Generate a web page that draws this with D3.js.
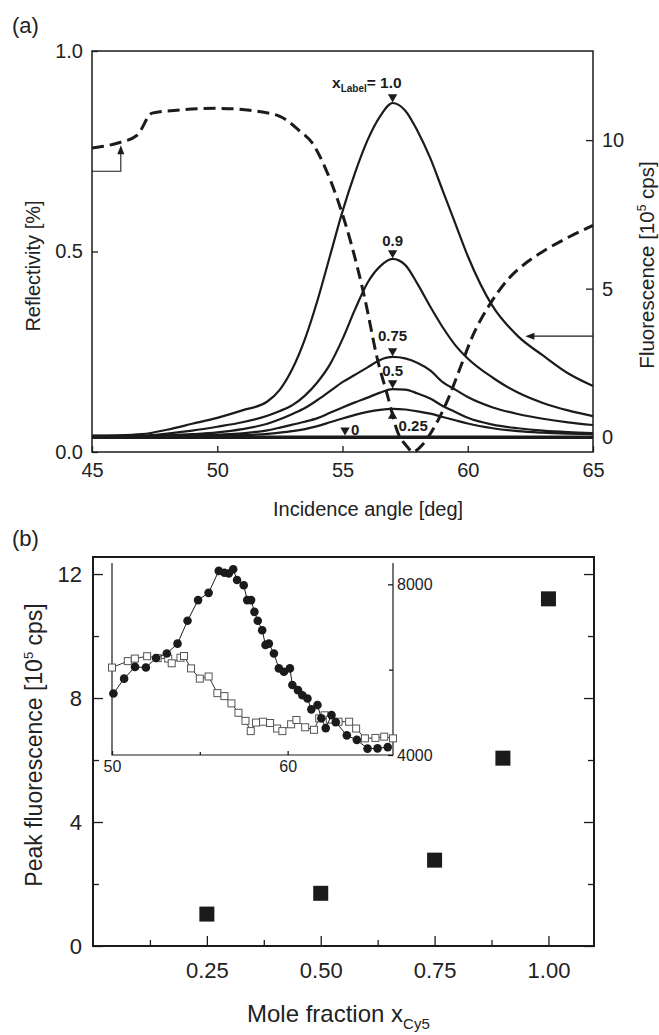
<!DOCTYPE html>
<html>
<head>
<meta charset="utf-8">
<script src="https://cdn.jsdelivr.net/npm/d3@7"></script>
<style>
  body { margin: 0; background: #fff; }
  svg { display: block; font-family: "Liberation Sans", Arial, sans-serif; }
</style>
</head>
<body>
<div id="container"></div>
<script>
/* CONSTANTS AND GLOBALS */
const width = 659,
  height = 1035,
  ink = "#1b1b1b";

/* DATA - panel (a) */
const angleGrid = [45,46,47,48,49,50,51,52,52.5,53,53.5,54,54.5,55,55.5,56,56.5,57,57.5,58,58.5,59,59.5,60,61,62,63,64,65];
const fluo100 = [0.05,0.06,0.1,0.25,0.45,0.65,0.9,1.2,1.6,2.3,3.3,4.6,6.1,7.6,8.9,10.0,10.8,11.25,11.0,10.3,9.4,8.3,7.2,6.1,4.4,3.4,2.75,2.15,1.72];
const fluo90 = [0.04,0.04,0.05,0.12,0.22,0.35,0.5,0.72,0.88,1.08,1.4,1.85,2.45,3.3,4.3,5.2,5.75,6.0,5.8,5.15,4.4,3.7,3.1,2.65,2.0,1.5,1.15,0.9,0.71];
const fluo75 = [0.03,0.03,0.03,0.06,0.1,0.16,0.27,0.45,0.6,0.78,0.98,1.25,1.55,1.85,2.1,2.35,2.6,2.7,2.65,2.5,2.25,1.85,1.6,1.35,1.0,0.78,0.62,0.5,0.41];
const fluo50 = [0.02,0.02,0.02,0.04,0.06,0.09,0.13,0.23,0.32,0.42,0.52,0.64,0.82,1.0,1.17,1.33,1.5,1.62,1.6,1.47,1.3,1.05,0.85,0.65,0.42,0.3,0.22,0.17,0.14];
const fluo25 = [0.01,0.01,0.01,0.02,0.03,0.05,0.07,0.11,0.15,0.2,0.27,0.37,0.5,0.63,0.75,0.85,0.92,0.95,0.93,0.87,0.79,0.68,0.57,0.46,0.3,0.2,0.15,0.12,0.1];
const fluo0 = [0,0,0,0,0,0,0,0,0,0,0,0,0,0,0,0,0,0,0,0,0,0,0,0,0,0,0,0,0];
const curveLabels = ["1.0","0.9","0.75","0.5","0.25","0"];

const reflAngles = [45.0,46.0,46.8,47.4,48.5,50.0,51.3,52.5,53.3,53.8,54.3,54.8,55.3,55.9,56.4,56.8,57.2,57.6,57.8,58.1,58.5,59.2,59.7,60.2,60.9,61.6,62.4,63.0,64.0,65.0];
const reflValues = [0.758,0.77,0.79,0.845,0.853,0.857,0.852,0.837,0.80,0.77,0.71,0.63,0.53,0.38,0.23,0.14,0.05,0.012,0.0,0.012,0.045,0.13,0.21,0.29,0.37,0.43,0.475,0.5,0.535,0.565];

const xTicksA = [45,50,55,60,65];
const reflTicks = [0,0.5,1.0];
const fluoTicks = [0,5,10];

/* DATA - panel (b) */
const moleFractions = [0.25,0.5,0.75,0.9,1.0];
const peakFluo = [1.03,1.7,2.77,6.06,11.2];
const xTicksB = [0.25,0.5,0.75,1.0];
const xMinorB = [0.125,0.375,0.625,0.875];
const yTicksB = [0,4,8,12];
const yMinorB = [2,6,10];

/* DATA - inset */
const circAngles = [50.08,50.69,51.31,51.93,52.51,53.12,53.73,54.30,54.90,55.50,56.08,56.40,56.65,56.90,57.12,57.50,57.70,57.92,58.11,58.30,58.55,58.74,58.93,59.22,59.50,59.79,60.13,60.27,60.59,60.84,61.13,61.35,61.70,61.92,62.17,62.50,62.74,63.37,63.94,64.55,65.12,65.70];
const circValues = [5440,5790,6065,6050,6275,6380,6610,7145,7630,7800,8315,8270,8255,8355,8100,7980,7630,7630,7355,7145,6925,6580,6610,6380,6030,5950,6030,5640,5520,5400,5325,5070,5170,4860,4630,4935,4770,4460,4355,4150,4155,4185];
const sqAngles = [50.0,50.9,51.3,52.0,52.6,53.2,53.4,53.9,54.1,54.5,55.0,55.5,56.0,56.4,56.8,57.2,57.6,57.9,58.2,58.6,59.0,59.4,59.7,60.2,60.5,61.0,61.5,61.8,62.1,62.4,62.9,63.5,63.9,64.4,65.0,65.5,66.0];
const sqValues = [6050,6200,6260,6315,6270,6260,6150,6280,6320,6030,5790,5840,5450,5380,5210,4990,4800,4560,4760,4780,4750,4620,4560,4720,4820,4650,4590,4860,4930,4830,4780,4780,4620,4390,4400,4430,4390];

const svg = d3.select("#container")
  .append("svg")
  .attr("width", width)
  .attr("height", height)
  .style("background-color", "white")

/* ================= PANEL (a) ================= */
const xA = d3.scaleLinear().domain([45, 65]).range([92, 593])
const yRefl = d3.scaleLinear().domain([0, 1]).range([452, 51])
const yFluo = d3.scaleLinear().domain([-0.5, 13]).range([452, 51])

const series = [fluo100, fluo90, fluo75, fluo50, fluo25, fluo0].map((vals, i) => ({
  label: curveLabels[i],
  points: angleGrid.map((a, j) => [a, vals[j]])
}))

const fluoLine = d3.line()
  .x(d => xA(d[0]))
  .y(d => yFluo(d[1]))
  .curve(d3.curveMonotoneX)

svg.selectAll(".fluo")
  .data(series)
  .join("path")
  .attr("class", "fluo")
  .attr("d", d => fluoLine(d.points))
  .attr("fill", "none")
  .attr("stroke", ink)
  .attr("stroke-width", d => d.label === "0" ? 3.5 : 2.2)

const reflLine = d3.line()
  .x(d => xA(d[0]))
  .y(d => yRefl(d[1]))
  .curve(d3.curveMonotoneX)

svg.append("path")
  .attr("d", reflLine(reflAngles.map((a, i) => [a, reflValues[i]])))
  .attr("fill", "none")
  .attr("stroke", ink)
  .attr("stroke-width", 3)
  .attr("stroke-dasharray", "12,6")

// frame
svg.append("rect")
  .attr("x", 92).attr("y", 51)
  .attr("width", 501).attr("height", 401)
  .attr("fill", "none")
  .attr("stroke", ink)
  .attr("stroke-width", 1.5)

const styleAxis = (g, size) => {
  g.select(".domain").remove()
  g.selectAll("line").attr("stroke", ink).attr("stroke-width", 1.3)
  g.selectAll("text").attr("fill", "#222").style("font-size", size + "px").attr("font-family", null)
}

svg.append("g")
  .attr("transform", "translate(0,452)")
  .call(d3.axisBottom(xA).tickValues(xTicksA).tickSize(-6).tickSizeOuter(0).tickPadding(11))
  .call(g => styleAxis(g, 20))

svg.append("g")
  .attr("transform", "translate(92,0)")
  .call(d3.axisLeft(yRefl).tickValues(reflTicks).tickFormat(d3.format(".1f")).tickSize(-6).tickSizeOuter(0).tickPadding(9))
  .call(g => styleAxis(g, 20))

svg.append("g")
  .attr("transform", "translate(593,0)")
  .call(d3.axisRight(yFluo).tickValues(fluoTicks).tickSize(-7).tickSizeOuter(0).tickPadding(9))
  .call(g => styleAxis(g, 20))

// axis titles
svg.append("text")
  .attr("x", 273).attr("y", 516)
  .attr("fill", "#222").style("font-size", "20px")
  .text("Incidence angle [deg]")

svg.append("text")
  .attr("transform", "translate(40,266) rotate(-90)")
  .attr("text-anchor", "middle")
  .attr("fill", "#222").style("font-size", "20px")
  .text("Reflectivity [%]")

const fTitle = svg.append("text")
  .attr("transform", "translate(654,265) rotate(-90)")
  .attr("text-anchor", "middle")
  .attr("fill", "#222").style("font-size", "20.5px")
fTitle.append("tspan").text("Fluorescence [10")
fTitle.append("tspan").attr("dy", -8).style("font-size", "12px").text("5")
fTitle.append("tspan").attr("dy", 8).text(" cps]")

svg.append("text")
  .attr("x", 12).attr("y", 33)
  .attr("fill", "#222").style("font-size", "22px")
  .text("(a)")

// peak markers and labels
const tri = d3.symbol().type(d3.symbolTriangle).size(38)
const peakX = xA(57)
series.slice(0, 4).forEach((s, i) => {
  const peakY = yFluo(d3.max(s.points, d => d[1]))
  svg.append("path")
    .attr("d", tri())
    .attr("transform", `translate(${peakX},${peakY - 6}) rotate(180)`)
    .attr("fill", ink)
  if (i === 0) {
    const t = svg.append("text")
      .attr("x", 332).attr("y", peakY - 15)
      .attr("fill", ink).attr("font-weight", "bold").style("font-size", "15.5px")
    t.append("tspan").text("x")
    t.append("tspan").attr("dy", 4).style("font-size", "10px").text("Label")
    t.append("tspan").attr("dy", -4).text("= " + s.label)
  } else {
    svg.append("text")
      .attr("x", peakX).attr("y", peakY - (i === 2 ? 16 : 13))
      .attr("text-anchor", "middle")
      .attr("fill", ink).attr("font-weight", "bold").style("font-size", "15px")
      .text(s.label)
  }
})

// 0.25 marker (pointing up from below)
const peak25 = yFluo(d3.max(series[4].points, d => d[1]))
svg.append("path")
  .attr("d", tri())
  .attr("transform", `translate(${peakX},${peak25 + 7})`)
  .attr("fill", ink)
svg.append("text")
  .attr("x", peakX + 6).attr("y", peak25 + 22)
  .attr("fill", ink).attr("font-weight", "bold").style("font-size", "15px")
  .text(series[4].label)

// 0 marker
svg.append("path")
  .attr("d", tri())
  .attr("transform", `translate(${xA(55.1)},${yFluo(0) - 7}) rotate(180)`)
  .attr("fill", ink)
svg.append("text")
  .attr("x", xA(55.1) + 6).attr("y", yFluo(0) - 2)
  .attr("fill", ink).attr("font-weight", "bold").style("font-size", "15px")
  .text(series[5].label)

// arrows
const headUp = "M0,0 L-3.5,9 L3.5,9 Z"
const xArrL = xA(46.15), yArrL = yRefl(0.70), yTipL = yRefl(0.765)
svg.append("path")
  .attr("d", `M${xA(45)},${yArrL} H${xArrL} V${yTipL + 8}`)
  .attr("fill", "none").attr("stroke", ink).attr("stroke-width", 1.1)
svg.append("path")
  .attr("d", headUp)
  .attr("transform", `translate(${xArrL},${yTipL})`)
  .attr("fill", ink)

const yArrR = yFluo(3.4), xTipR = xA(62.3)
svg.append("path")
  .attr("d", `M${xA(65)},${yArrR} H${xTipR + 8}`)
  .attr("fill", "none").attr("stroke", ink).attr("stroke-width", 1.1)
svg.append("path")
  .attr("d", headUp)
  .attr("transform", `translate(${xTipR},${yArrR}) rotate(-90)`)
  .attr("fill", ink)

/* ================= PANEL (b) ================= */
const xB = d3.scaleLinear().domain([0, 1.1]).range([93, 594])
const yB = d3.scaleLinear().domain([0, 12.55]).range([946, 557])

svg.append("rect")
  .attr("x", 93).attr("y", 557)
  .attr("width", 501).attr("height", 389)
  .attr("fill", "none")
  .attr("stroke", ink)
  .attr("stroke-width", 2)

svg.append("g")
  .attr("transform", "translate(0,946)")
  .call(d3.axisBottom(xB).tickValues(xTicksB).tickFormat(d3.format(".2f")).tickSize(-10).tickSizeOuter(0).tickPadding(16))
  .call(g => styleAxis(g, 22))
svg.append("g")
  .attr("transform", "translate(0,946)")
  .call(d3.axisBottom(xB).tickValues(xMinorB).tickFormat("").tickSize(-6).tickSizeOuter(0))
  .call(g => styleAxis(g, 22))

svg.append("g")
  .attr("transform", "translate(93,0)")
  .call(d3.axisLeft(yB).tickValues(yTicksB).tickSize(-10).tickSizeOuter(0).tickPadding(11))
  .call(g => styleAxis(g, 22))
svg.append("g")
  .attr("transform", "translate(93,0)")
  .call(d3.axisLeft(yB).tickValues(yMinorB).tickFormat("").tickSize(-6).tickSizeOuter(0))
  .call(g => styleAxis(g, 22))
svg.append("g")
  .attr("transform", "translate(594,0)")
  .call(d3.axisRight(yB).tickValues(yTicksB).tickFormat("").tickSize(-10).tickSizeOuter(0))
  .call(g => styleAxis(g, 22))
svg.append("g")
  .attr("transform", "translate(594,0)")
  .call(d3.axisRight(yB).tickValues(yMinorB).tickFormat("").tickSize(-6).tickSizeOuter(0))
  .call(g => styleAxis(g, 22))

svg.selectAll(".peak")
  .data(moleFractions.map((m, i) => ({ m, v: peakFluo[i] })))
  .join("rect")
  .attr("class", "peak")
  .attr("x", d => xB(d.m) - 7.5)
  .attr("y", d => yB(d.v) - 7.5)
  .attr("width", 15).attr("height", 15)
  .attr("fill", ink)

const bx = svg.append("text")
  .attr("x", 247).attr("y", 1022)
  .attr("fill", "#222").style("font-size", "24px")
bx.append("tspan").text("Mole fraction x")
bx.append("tspan").attr("dy", 7).style("font-size", "15px").text("Cy5")

const by = svg.append("text")
  .attr("transform", "translate(42,745) rotate(-90)")
  .attr("text-anchor", "middle")
  .attr("fill", "#222").style("font-size", "23px")
by.append("tspan").text("Peak fluorescence [10")
by.append("tspan").attr("dy", -9).style("font-size", "13px").text("5")
by.append("tspan").attr("dy", 9).text(" cps]")

svg.append("text")
  .attr("x", 12).attr("y", 546)
  .attr("fill", "#222").style("font-size", "22px")
  .text("(b)")

/* ---------- inset ---------- */
const xI = d3.scaleLinear().domain([50, 66]).range([112, 393])
const yI = d3.scaleLinear().domain([4000, 8500]).range([755, 563])

svg.append("path")
  .attr("d", "M112,563 V755 H393 V563")
  .attr("fill", "none").attr("stroke", ink).attr("stroke-width", 1.2)

svg.append("g")
  .attr("transform", "translate(0,755)")
  .call(d3.axisBottom(xI).tickValues([50, 60]).tickSize(-4).tickSizeOuter(0).tickPadding(6))
  .call(g => styleAxis(g, 16))
svg.append("g")
  .attr("transform", "translate(0,755)")
  .call(d3.axisBottom(xI).tickValues([55]).tickFormat("").tickSize(-3).tickSizeOuter(0))
  .call(g => styleAxis(g, 16))
svg.append("g")
  .attr("transform", "translate(393,0)")
  .call(d3.axisRight(yI).tickValues([4000, 8000]).tickFormat(d3.format("d")).tickSize(-5).tickSizeOuter(0).tickPadding(4))
  .call(g => styleAxis(g, 16))
svg.append("g")
  .attr("transform", "translate(393,0)")
  .call(d3.axisRight(yI).tickValues([6000]).tickFormat("").tickSize(-4).tickSizeOuter(0))
  .call(g => styleAxis(g, 16))

const insetLine = d3.line().x(d => xI(d[0])).y(d => yI(d[1]))
const sqPts = sqAngles.map((a, i) => [a, sqValues[i]])
const circPts = circAngles.map((a, i) => [a, circValues[i]])

svg.append("path")
  .attr("d", insetLine(sqPts))
  .attr("fill", "none").attr("stroke", "#333").attr("stroke-width", 1)
svg.selectAll(".sq")
  .data(sqPts)
  .join("rect")
  .attr("class", "sq")
  .attr("x", d => xI(d[0]) - 3.5)
  .attr("y", d => yI(d[1]) - 3.5)
  .attr("width", 7).attr("height", 7)
  .attr("fill", "white").attr("stroke", "#555").attr("stroke-width", 1)

svg.append("path")
  .attr("d", insetLine(circPts))
  .attr("fill", "none").attr("stroke", ink).attr("stroke-width", 1)
svg.selectAll(".circ")
  .data(circPts)
  .join("circle")
  .attr("class", "circ")
  .attr("cx", d => xI(d[0]))
  .attr("cy", d => yI(d[1]))
  .attr("r", 4.3)
  .attr("fill", ink)
</script>
</body>
</html>
